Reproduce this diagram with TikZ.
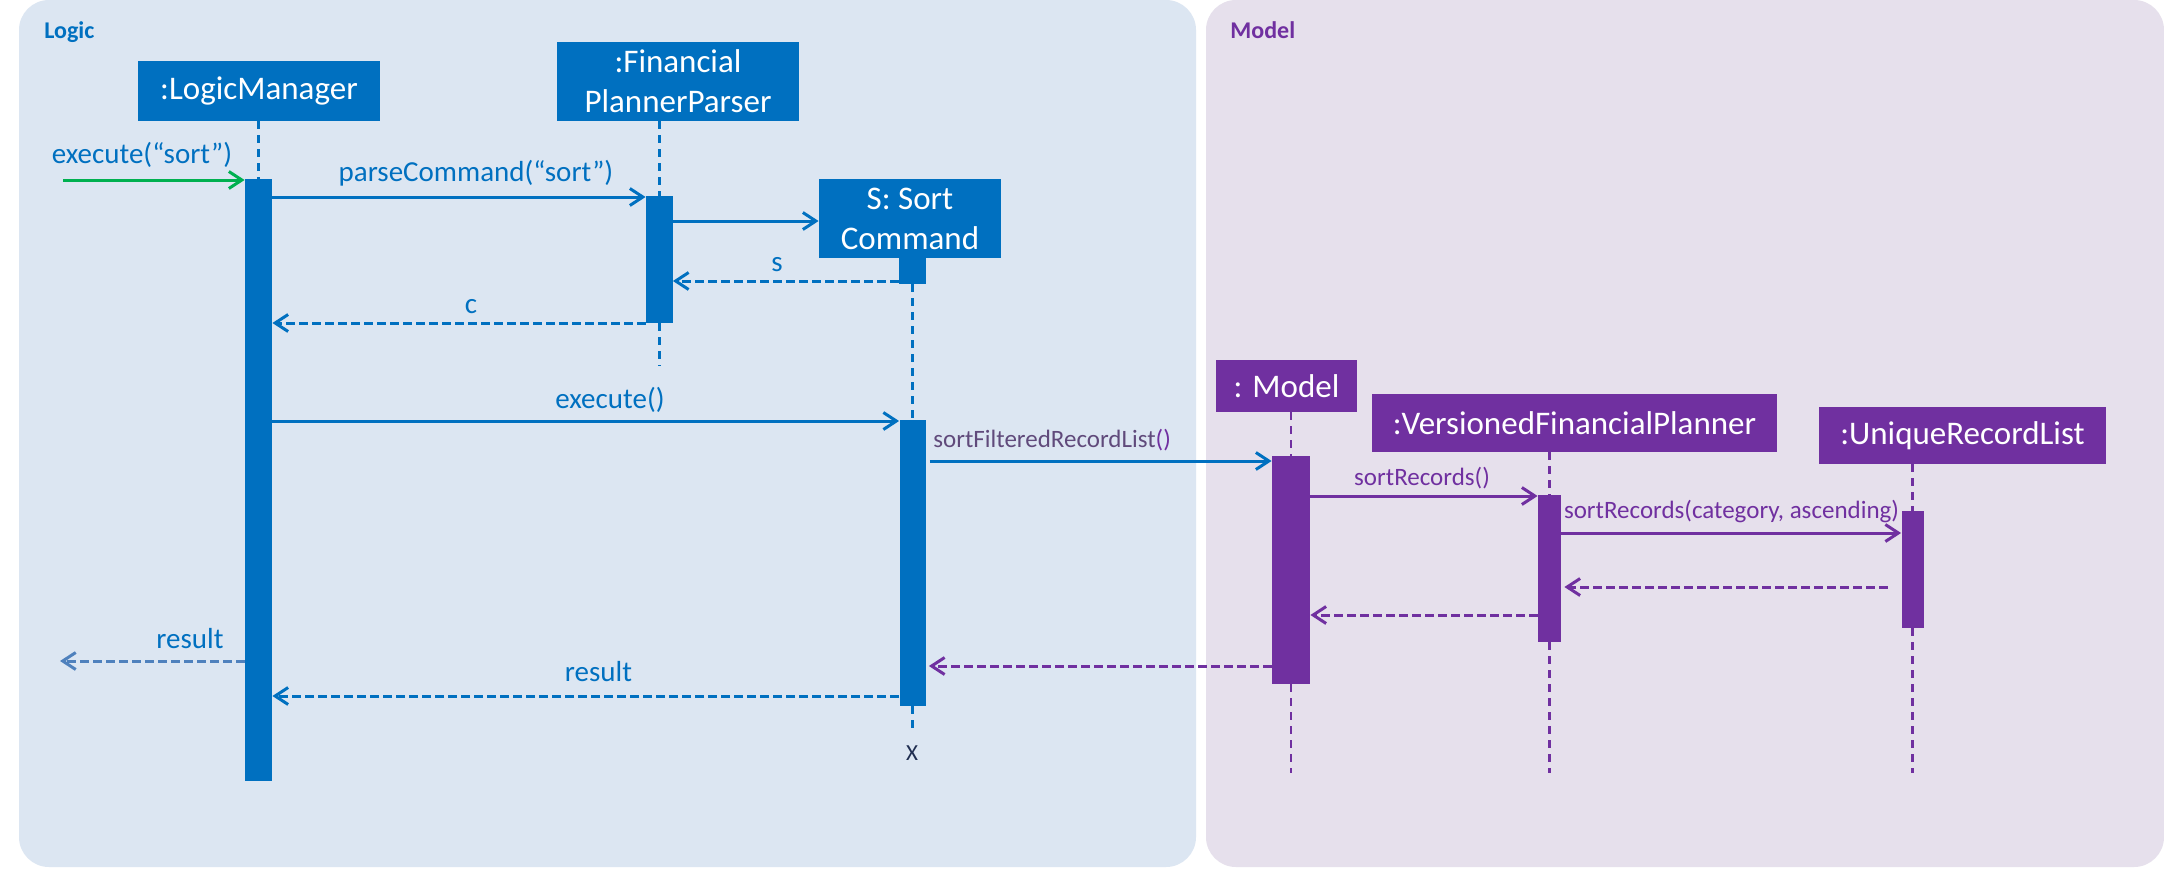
\documentclass[tikz,border=0pt]{standalone}
\usepackage{fontspec}
\setmainfont{Carlito}
\usetikzlibrary{arrows.meta}
\definecolor{lblue}{HTML}{0070C0}
\definecolor{mpurp}{HTML}{7030A0}
\definecolor{lbg}{HTML}{DCE6F2}
\definecolor{mbg}{HTML}{E6E0EC}
\definecolor{fgreen}{HTML}{00B050}
\definecolor{sblue}{HTML}{4F81BD}
\definecolor{dpurp}{HTML}{604A7B}
\definecolor{navyx}{HTML}{1F2D50}
\begin{document}
\begin{tikzpicture}[x=0.5pt,y=-0.5pt,
  objbox/.style={inner sep=0pt, text=white, align=center, font=\fontsize{16.5}{20}\selectfont},
  lobj/.style={objbox, fill=lblue},
  mobj/.style={objbox, fill=mpurp},
  actbar/.style={inner sep=0pt, draw=none},
  lact/.style={actbar, fill=lblue},
  mact/.style={actbar, fill=mpurp},
  lifeL/.style={draw=lblue, line width=1.25pt, dash pattern=on 4pt off 3pt},
  lifeM/.style={draw=mpurp, line width=1.25pt, dash pattern=on 4pt off 3pt},
  tipA/.tip={Straight Barb[length=6.5pt,width=8.5pt]},
  msgL/.style={draw=lblue, line width=1.5pt, -tipA},
  msgM/.style={draw=mpurp, line width=1.5pt, -tipA},
  retL/.style={msgL, dash pattern=on 4.5pt off 2pt},
  retM/.style={msgM, dash pattern=on 4.5pt off 2pt},
  lblL/.style={inner sep=0pt, anchor=base, text=lblue, font=\fontsize{14.5}{17}\selectfont},
  lblM/.style={inner sep=0pt, anchor=base, text=mpurp, font=\fontsize{12.5}{15}\selectfont},
  panellbl/.style={inner sep=0pt, anchor=base west, font=\fontsize{12}{14}\selectfont\bfseries}
]
\useasboundingbox (0,0) rectangle (2164,868);
\fill[white] (0,0) rectangle (2164,868);
% panels
\fill[lbg, rounded corners=15pt] (19,0) rectangle (1196,867);
\fill[mbg, rounded corners=15pt] (1206,0) rectangle (2164,867);
\node[panellbl, text=lblue] (logiclbl) at (44,38) {Logic};
\node[panellbl, text=mpurp] (modellbl) at (1230,38) {Model};

% object boxes
\node[lobj, minimum width=121pt, minimum height=30pt] (lm) at (259,91) {:LogicManager};
\node[lobj, minimum width=121pt, minimum height=39.5pt] (pp) at (678,81.5) {:Financial\\PlannerParser};
\node[lobj, minimum width=91pt, minimum height=39.5pt] (sc) at (910,218.5) {S: Sort\\Command};
\node[mobj, minimum width=70.5pt, minimum height=26pt] (mo) at (1286.5,386) {: Model};
\node[mobj, minimum width=202.5pt, minimum height=29pt] (vfp) at (1574.5,423) {:VersionedFinancialPlanner};
\node[mobj, minimum width=143.5pt, minimum height=28.5pt] (url) at (1962.5,435.5) {:UniqueRecordList};

% activation bars
\node[lact, minimum width=13.5pt, minimum height=301pt] (lma) at (258.5,480) {};
\node[lact, minimum width=13.25pt, minimum height=63.5pt] (pa) at (659.25,259.5) {};
\node[lact, minimum width=13.5pt, minimum height=13pt] (sca0) at (912.5,271) {};
\node[lact, minimum width=13pt, minimum height=143pt] (sca) at (912.5,563) {};
\node[mact, minimum width=19pt, minimum height=114pt] (ma) at (1291,570) {};
\node[mact, minimum width=11.5pt, minimum height=73.5pt] (va) at (1549.5,568.5) {};
\node[mact, minimum width=11pt, minimum height=58.5pt] (ua) at (1912.5,569.5) {};

% lifeline ends
\coordinate (ppend) at (659.25,366);
\coordinate (scend) at (912.5,732);
\coordinate (moend) at (1291,773);
\coordinate (vfpend) at (1549.5,773);
\coordinate (urlend) at (1912.5,773);

% lifelines
\draw[lifeL] (lma.north |- lm.south) -- (lma.north);
\draw[lifeL] (pa.north |- pp.south) -- (pa.north);
\draw[lifeL] (pa.south) -- (ppend);
\draw[lifeL] (sca0.south) -- (sca.north);
\draw[lifeL] (sca.south) -- (scend);
\draw[lifeM] (ma.north |- mo.south) -- (ma.north);
\draw[lifeM] (ma.south) -- (moend);
\draw[lifeM] (va.north |- vfp.south) -- (va.north);
\draw[lifeM] (va.south) -- (vfpend);
\draw[lifeM] (ua.north |- url.south) -- (ua.north);
\draw[lifeM] (ua.south) -- (urlend);

\node[inner sep=0pt, text=navyx, font=\fontsize{11.5}{14}\selectfont] (xmark) at (912,753) {X};

% free ends
\coordinate (found) at (63,180);
\coordinate (lost) at (60,661);
\coordinate (urlret) at (1887.5,587);

% messages
\draw[draw=fgreen, line width=1.5pt, -tipA] (found) -- (lma.west |- found);
\node[lblL] (l1) at (142,163) {execute(“sort”)};

\draw[msgL] (lma.east |- 0,197) -- (pa.west |- 0,197);
\node[lblL] (l2) at (476,181) {parseCommand(“sort”)};

\draw[msgL] (pa.east |- 0,221) -- (sc.west |- 0,221);

\draw[retL] (sca0.west |- 0,281) -- (pa.east |- 0,281);
\node[lblL] (l3) at (777,271) {s};

\draw[retL] (pa.west |- 0,323) -- (lma.east |- 0,323);
\node[lblL] (l4) at (471,313) {c};

\draw[msgL] (lma.east |- 0,421) -- (sca.west |- 0,421);
\node[lblL] (l5) at (610,408) {execute()};

\draw[msgL] ([xshift=2pt]sca.east |- 0,461) -- (ma.west |- 0,461);
\node[lblM, anchor=base west, text=dpurp] (l6) at (933,447) {sortFilteredRecordList\textcolor{mpurp}{()}};

\draw[msgM] (ma.east |- 0,496) -- (va.west |- 0,496);
\node[lblM] (l7) at (1422,485) {sortRecords()};

\draw[msgM] (va.east |- 0,533) -- (ua.west |- 0,533);
\node[lblM] (l8) at (1731.5,518) {sortRecords(category, ascending)};

\draw[retM] (urlret) -- ([xshift=1.5pt]va.east |- urlret);
\draw[retM] (va.west |- 0,615) -- (ma.east |- 0,615);
\draw[retM] (ma.west |- 0,666) -- ([xshift=1.5pt]sca.east |- 0,666);

\draw[draw=sblue, line width=1.5pt, -tipA, dash pattern=on 4.5pt off 2pt] (lma.west |- lost) -- (lost);
\node[lblL] (l9) at (190,648) {result};

\draw[retL] (sca.west |- 0,696) -- (lma.east |- 0,696);
\node[lblL] (l10) at (598.5,681) {result};
\end{tikzpicture}
\end{document}
